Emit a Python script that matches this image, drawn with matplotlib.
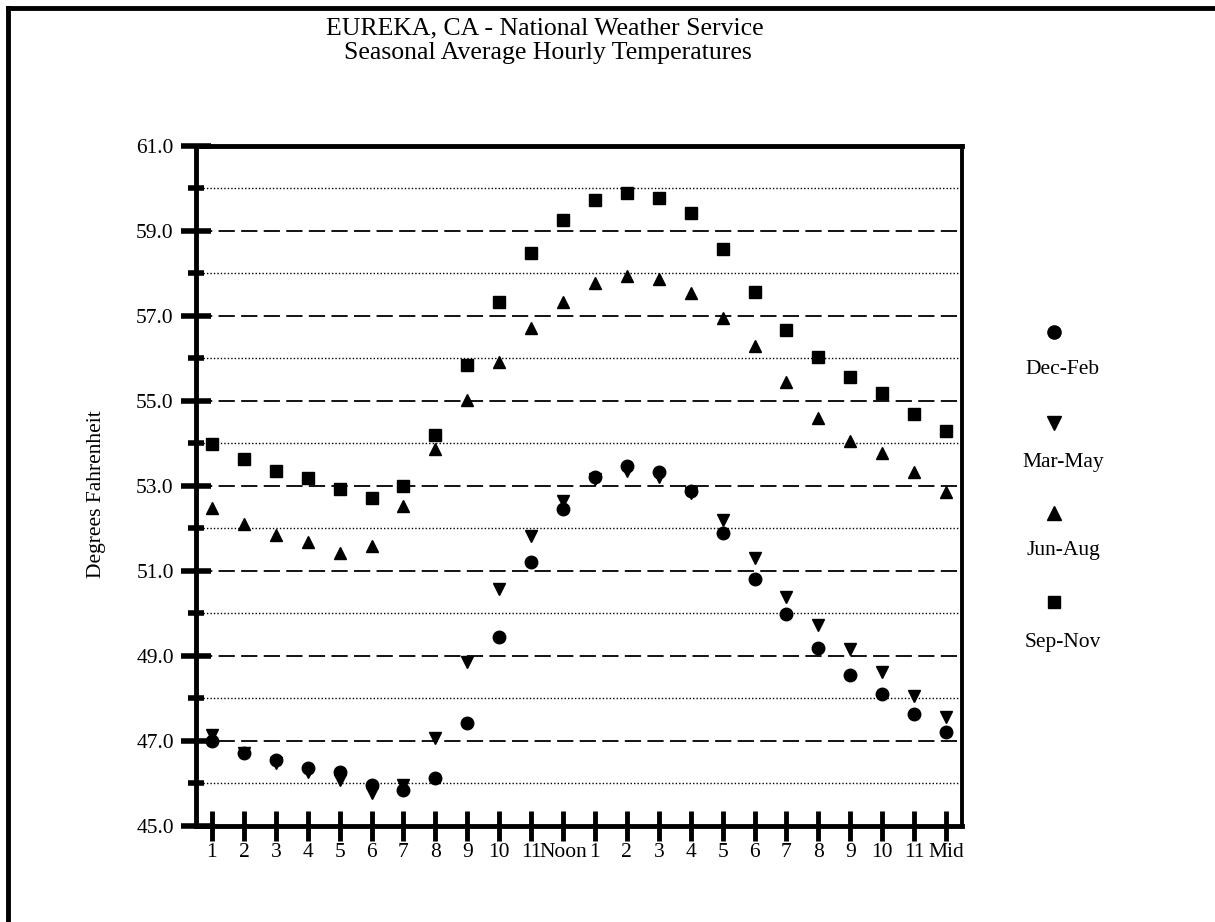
import matplotlib.pyplot as plt
from matplotlib.lines import Line2D

plt.rcParams['font.family'] = ['Liberation Serif', 'DejaVu Serif']

hours = list(range(1, 25))
hour_labels = ['1', '2', '3', '4', '5', '6', '7', '8', '9', '10', '11', 'Noon',
               '1', '2', '3', '4', '5', '6', '7', '8', '9', '10', '11', 'Mid']

# seasonal averages (deg F)
dec_feb = [47.0, 46.72, 46.56, 46.36, 46.27, 45.96, 45.85, 46.13, 47.42, 49.45, 51.21, 52.46,
           53.2, 53.48, 53.33, 52.88, 51.9, 50.81, 49.99, 49.19, 48.55, 48.1, 47.63, 47.21]
mar_may = [47.14, 46.72, 46.48, 46.27, 46.08, 45.78, 45.96, 47.07, 48.86, 50.58, 51.82, 52.65,
           53.17, 53.36, 53.22, 52.84, 52.2, 51.3, 50.39, 49.73, 49.16, 48.62, 48.06, 47.56]
jun_aug = [52.48, 52.1, 51.85, 51.68, 51.42, 51.59, 52.53, 53.87, 55.02, 55.92, 56.72, 57.33,
           57.78, 57.94, 57.87, 57.54, 56.95, 56.3, 55.45, 54.6, 54.06, 53.78, 53.33, 52.86]
sep_nov = [53.99, 53.64, 53.35, 53.19, 52.93, 52.72, 53.0, 54.2, 55.85, 57.33, 58.48, 59.26,
           59.73, 59.9, 59.77, 59.42, 58.58, 57.57, 56.67, 56.04, 55.56, 55.18, 54.69, 54.29]

seasons = ['Dec-Feb', 'Mar-May', 'Jun-Aug', 'Sep-Nov']
series = [dec_feb, mar_may, jun_aug, sep_nov]
markers = ['o', 'v', '^', 's']
sizes = [9, 9, 9, 8.5]

major_vals = [45, 47, 49, 51, 53, 55, 57, 59, 61]
minor_vals = [46, 48, 50, 52, 54, 56, 58, 60]

fig = plt.figure(figsize=(12.15, 9.22), dpi=100)
ax = fig.add_axes([196 / 1215, 1 - 826 / 922, (962 - 196) / 1215, (826 - 146) / 922])

# grid: dashed at labelled values, dotted in between
for v in major_vals[1:-1]:
    ax.axhline(v, color='black', lw=1.3, ls=(0, (9, 3.5)), zorder=1)
for v in minor_vals:
    ax.axhline(v, color='black', lw=1.0, ls=(0, (1, 1.5)), zorder=1)

for vals, m, s in zip(series, markers, sizes):
    ax.plot(hours, vals, ls='none', marker=m, ms=s, color='black', zorder=3, clip_on=False)

ax.set_xlim(0.5, 24.5)
ax.set_ylim(45, 61)
ax.set_xticks(hours)
ax.set_xticklabels(hour_labels)
ax.set_yticks(major_vals)
ax.set_yticks(minor_vals, minor=True)
ax.set_yticklabels([f'{v:.1f}' for v in major_vals])

ax.tick_params(axis='x', direction='inout', length=22, width=3.5, labelsize=15.5, pad=1)
ax.tick_params(axis='y', which='major', direction='inout', length=22, width=4, labelsize=15.5, pad=5)
ax.tick_params(axis='y', which='minor', direction='inout', length=12, width=4)

for side in ['left', 'bottom', 'top']:
    ax.spines[side].set_linewidth(3.5)
ax.spines['right'].set_linewidth(2.8)

ax.set_ylabel('Degrees Fahrenheit', fontsize=15.5, va='center')
ax.yaxis.set_label_coords((97 - 196) / 766, (826 - 494) / 680)

fig.text(545 / 1215, 1 - 28 / 922, 'EUREKA, CA - National Weather Service',
         ha='center', va='center', fontsize=18.5)
fig.text(548 / 1215, 1 - 53 / 922, 'Seasonal Average Hourly Temperatures',
         ha='center', va='center', fontsize=18.5)

# legend: marker above label, stacked vertically
leg_marker_y = [332, 423, 513, 602]
leg_text_y = [370, 462, 550, 642]
for name, m, s, my, ty in zip(seasons, markers, sizes, leg_marker_y, leg_text_y):
    fig.add_artist(Line2D([1054 / 1215], [1 - my / 922], marker=m, ms=s + 0.5,
                          color='black', ls='none'))
    fig.text(1063 / 1215, 1 - ty / 922, name, ha='center', va='center', fontsize=15.5)

# page frame
fig.add_artist(Line2D([8 / 1215, 8 / 1215], [0, 1 - 8 / 922], color='black', lw=3.5))
fig.add_artist(Line2D([8 / 1215, 1], [1 - 8 / 922, 1 - 8 / 922], color='black', lw=3.5))

fig.savefig('out.png', dpi=100)
